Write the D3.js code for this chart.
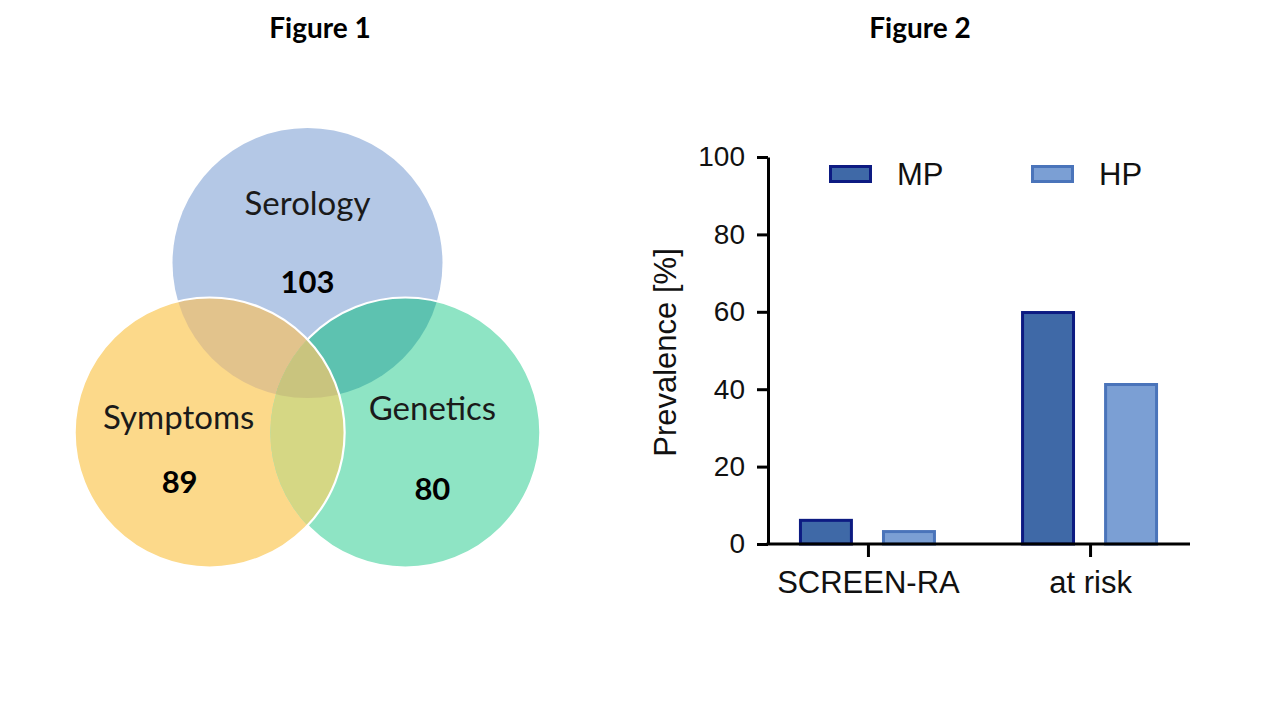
<!DOCTYPE html>
<html>
<head>
<meta charset="utf-8">
<script src="https://cdn.jsdelivr.net/npm/d3@7"></script>
<style>
  html, body { margin: 0; padding: 0; background: #ffffff; }
  svg { display: block; }
</style>
</head>
<body>
<svg id="chart" width="1280" height="720"></svg>
<script>
// ---------- DATA ----------
const figureTitles = ["Figure 1", "Figure 2"];

// Figure 1: Venn diagram
const vennSets = ["Serology", "Symptoms", "Genetics"];
const vennCounts = [103, 89, 80];
const vennColors = ["#b4c8e6", "#fcd98a", "#8ee4c4"];
// overlap colours: Serology∩Symptoms, Serology∩Genetics, Symptoms∩Genetics, all three
const overlapColors = ["#e2c38c", "#5dc2b0", "#d5d784", "#c9c47e"];

// Figure 2: grouped bars
const categories = ["SCREEN-RA", "at risk"];
const seriesNames = ["MP", "HP"];
const mpValues = [6.5, 60.2];
const hpValues = [3.6, 41.6];
const yTicks = [0, 20, 40, 60, 80, 100];
const yLabel = "Prevalence [%]";
const seriesFill = ["#3f69a7", "#7b9fd4"];
const seriesStroke = ["#0d1b82", "#4a74ba"];

// ---------- DRAW ----------
const svg = d3.select("#chart");
const defs = svg.append("defs");

// Titles
const titleX = d3.scalePoint().domain(figureTitles).range([320, 920]);
svg.selectAll("text.title").data(figureTitles).join("text")
  .attr("class", "title")
  .attr("x", d => titleX(d)).attr("y", 38)
  .attr("text-anchor", "middle")
  .style("font-family", "Lato, 'Open Sans', sans-serif")
  .style("font-weight", "bold").style("font-size", "28px")
  .attr("fill", "#000")
  .text(d => d);

// ---- Venn ----
const vennCenter = [307.5, 376];
const vennRadius = 135;
const centerDist = 113;
const angleOf = d3.scaleOrdinal().domain(vennSets).range([-90, 150, 30]);
const venn = vennSets.map((s, i) => {
  const a = angleOf(s) * Math.PI / 180;
  return { name: s, count: vennCounts[i], color: vennColors[i],
           cx: vennCenter[0] + centerDist * Math.cos(a),
           cy: vennCenter[1] + centerDist * Math.sin(a) };
});

venn.forEach((v, i) => {
  defs.append("clipPath").attr("id", "clip" + i)
    .append("circle").attr("cx", v.cx).attr("cy", v.cy).attr("r", vennRadius);
});
const mask = defs.append("mask").attr("id", "noSym");
mask.append("rect").attr("width", 1280).attr("height", 720).attr("fill", "#fff");
mask.append("circle").attr("cx", venn[1].cx).attr("cy", venn[1].cy).attr("r", vennRadius).attr("fill", "#000");

const vg = svg.append("g");
vg.selectAll("circle.base").data(venn).join("circle")
  .attr("class", "base")
  .attr("cx", d => d.cx).attr("cy", d => d.cy).attr("r", vennRadius)
  .attr("fill", d => d.color);

const pairs = [[0, 1, 0], [0, 2, 1], [1, 2, 2]];
pairs.forEach(([a, b, c]) => {
  vg.append("g").attr("clip-path", `url(#clip${a})`)
    .append("circle").attr("cx", venn[b].cx).attr("cy", venn[b].cy).attr("r", vennRadius)
    .attr("fill", overlapColors[c]);
});
vg.append("g").attr("clip-path", "url(#clip0)")
  .append("g").attr("clip-path", "url(#clip1)")
  .append("circle").attr("cx", venn[2].cx).attr("cy", venn[2].cy).attr("r", vennRadius)
  .attr("fill", overlapColors[3]);

vg.append("circle").attr("cx", venn[2].cx).attr("cy", venn[2].cy).attr("r", vennRadius)
  .attr("fill", "none").attr("stroke", "#fff").attr("stroke-width", 2.2)
  .attr("mask", "url(#noSym)");
vg.append("circle").attr("cx", venn[1].cx).attr("cy", venn[1].cy).attr("r", vennRadius)
  .attr("fill", "none").attr("stroke", "#fff").attr("stroke-width", 2.2);

const labelOffsets = { "Serology": [[0, -61], [0, 18]],
                       "Symptoms": [[-31, -17], [-30, 48]],
                       "Genetics": [[27, -26], [27, 55]] };
venn.forEach(v => {
  const [lo, co] = labelOffsets[v.name];
  vg.append("text").attr("x", v.cx + lo[0]).attr("y", v.cy + lo[1])
    .attr("text-anchor", "middle").attr("dominant-baseline", "central")
    .style("font-family", "Lato, 'Open Sans', sans-serif")
    .style("font-size", "33px").attr("fill", "#1a1a1a").text(v.name);
  vg.append("text").attr("x", v.cx + co[0]).attr("y", v.cy + co[1])
    .attr("text-anchor", "middle").attr("dominant-baseline", "central")
    .style("font-family", "Lato, 'Open Sans', sans-serif")
    .style("font-weight", "bold")
    .style("font-size", "31px").attr("fill", "#000").text(v.count);
});

// ---- Bar chart ----
const xLeft = 768, xRight = 1190, yTop = 157, yBottom = 544;
const y = d3.scaleLinear().domain([0, 100]).range([yBottom, yTop]);
const x = d3.scalePoint().domain(categories).range([xLeft, xRight]).padding(0.45);
const xSub = d3.scaleBand().domain(seriesNames).range([-69, 68]).paddingInner(0.35);

const bars = categories.flatMap((c, i) => [
  { cat: c, s: "MP", v: mpValues[i], k: 0 },
  { cat: c, s: "HP", v: hpValues[i], k: 1 }
]);

const bg = svg.append("g");
const bw = 3;
bg.selectAll("rect.bar").data(bars).join("rect")
  .attr("class", "bar")
  .attr("x", d => x(d.cat) + xSub(d.s) + bw / 2)
  .attr("width", xSub.bandwidth() - bw)
  .attr("y", d => y(d.v) + bw / 2)
  .attr("height", d => y(0) - y(d.v) - bw / 2)
  .attr("fill", d => seriesFill[d.k])
  .attr("stroke", d => seriesStroke[d.k])
  .attr("stroke-width", bw);

const axisFont = "'Liberation Sans', Arial, sans-serif";

const yAxis = bg.append("g").attr("transform", `translate(${xLeft},0)`)
  .call(d3.axisLeft(y).tickValues(yTicks).tickSize(11).tickSizeOuter(0).tickPadding(12));
yAxis.select(".domain").attr("stroke", "#000").attr("stroke-width", 3);
yAxis.selectAll(".tick line").attr("stroke", "#000").attr("stroke-width", 3);
yAxis.selectAll(".tick text")
  .style("font-family", axisFont)
  .style("font-size", "28px").attr("fill", "#111");

const xAxis = bg.append("g").attr("transform", `translate(0,${yBottom})`)
  .call(d3.axisBottom(x).tickSize(13).tickSizeOuter(0).tickPadding(14));
xAxis.select(".domain").attr("d", `M${xLeft - 1.5},0H${xRight}`)
  .attr("stroke", "#000").attr("stroke-width", 3);
xAxis.selectAll(".tick line").attr("stroke", "#000").attr("stroke-width", 3);
xAxis.selectAll(".tick text")
  .style("font-family", axisFont)
  .style("font-size", "31px").attr("fill", "#111");

bg.append("text")
  .attr("transform", `translate(676,${(yTop + yBottom) / 2 + 2}) rotate(-90)`)
  .attr("text-anchor", "middle")
  .style("font-family", axisFont)
  .style("font-size", "31px").attr("fill", "#111")
  .text(yLabel);

const legX = d3.scaleOrdinal().domain(seriesNames).range([829, 1031]);
const leg = bg.selectAll("g.leg").data(seriesNames).join("g")
  .attr("class", "leg")
  .attr("transform", d => `translate(${legX(d)},165)`);
leg.append("rect").attr("x", 1.5).attr("y", 1.5).attr("width", 40).attr("height", 15)
  .attr("fill", (d, i) => seriesFill[i]).attr("stroke", (d, i) => seriesStroke[i])
  .attr("stroke-width", bw);
leg.append("text").attr("x", 68).attr("y", 9).attr("dominant-baseline", "central")
  .style("font-family", axisFont)
  .style("font-size", "31px").attr("fill", "#111")
  .text(d => d);
</script>
</body>
</html>
